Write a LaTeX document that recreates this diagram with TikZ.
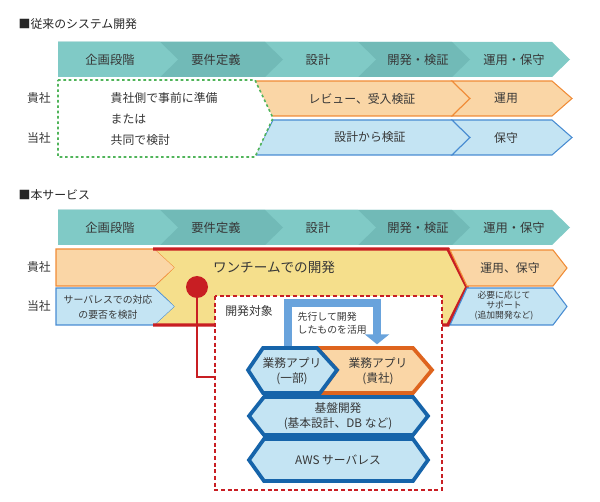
\documentclass[tikz,border=0pt]{standalone}
\usepackage{fontspec}
\setmainfont{Noto Sans CJK JP}
\usepackage{xcolor}
\usepackage{tikz}
\usetikzlibrary{arrows.meta,positioning}

\definecolor{tealA}{RGB}{128,202,198}
\definecolor{tealB}{RGB}{113,186,183}
\definecolor{orgFill}{RGB}{250,214,166}
\definecolor{orgLine}{RGB}{240,140,55}
\definecolor{bluFill}{RGB}{196,228,243}
\definecolor{bluLine}{RGB}{72,140,210}
\definecolor{grnLine}{RGB}{80,180,90}
\definecolor{yelFill}{RGB}{245,223,140}
\definecolor{redLine}{RGB}{200,30,35}
\definecolor{hexBlue}{RGB}{22,100,170}
\definecolor{hexOrg}{RGB}{222,100,30}
\definecolor{arrBlue}{RGB}{105,163,220}
\definecolor{txtGray}{RGB}{55,55,55}

\begin{document}
\begin{tikzpicture}[x=0.75pt,y=-0.75pt,
    hdtext/.style={font=\fontsize{9.2}{11}\selectfont, text=txtGray},
    rowtext/.style={font=\fontsize{8.9}{11}\selectfont, text=txtGray},
    smalltext/.style={font=\fontsize{6.6}{7.6}\selectfont, text=txtGray, align=center},
    hextext/.style={font=\fontsize{8.8}{11}\selectfont, text=txtGray, align=center},
    orgarrow/.style={fill=orgFill, draw=orgLine, line width=0.8pt},
    bluarrow/.style={fill=bluFill, draw=bluLine, line width=0.8pt},
    hexblue/.style={fill=bluFill, draw=hexBlue, line width=2.8pt},
    hexorange/.style={fill=orgFill, draw=hexOrg, line width=2.8pt}]
    \useasboundingbox (0,0) rectangle (600,502);

    % Titles
    \node[rowtext, text=black!85, anchor=west] (title1) at (14,24) {■従来のシステム開発};
    \node[rowtext, text=black!85, anchor=west] (title2) at (14,195) {■本サービス};

    % Phase bars
    \foreach \yt in {42,210} {
        \foreach \xe/\col in {552/tealA,452/tealB,358/tealA,265/tealB,160/tealA}
            \fill[\col] (58,\yt) -- (\xe,\yt) -- (\xe+18,\yt+17.5) -- (\xe,\yt+35) -- (58,\yt+35) -- cycle;
    }
    \foreach \yt/\s in {42/a,210/b} {
        \foreach \x/\t [count=\i] in {110/企画段階,216/要件定義,318/設計,418/開発・検証,514/運用・保守}
            \node[hdtext] (hd\s\i) at (\x,\yt+17.5) {\t};
    }

    % Row labels
    \node[rowtext] (clientA) at (39,98) {貴社};
    \node[rowtext] (usA) at (39,138) {当社};
    \node[rowtext] (clientB) at (39,267) {貴社};
    \node[rowtext] (usB) at (39,306) {当社};

    % Conventional development
    \draw[orgarrow] (255,81) -- (452,81) -- (470,98.5) -- (452,116) -- (271,116) -- cycle;
    \draw[orgarrow] (452,81) -- (552,81) -- (572,98.5) -- (552,116) -- (452,116) -- (470,98.5) -- cycle;
    \draw[bluarrow] (273,120) -- (452,120) -- (470,137.5) -- (452,155) -- (255,155) -- cycle;
    \draw[bluarrow] (452,120) -- (552,120) -- (572,137.5) -- (552,155) -- (452,155) -- (470,137.5) -- cycle;
    \draw[grnLine, line width=1.2pt, dash pattern=on 2pt off 2pt, fill=white]
        (58,80) -- (255,80) -- (273,118) -- (255,157) -- (58,157) -- cycle;

    \node[rowtext, anchor=west, align=left, font=\fontsize{8.9}{15.6}\selectfont] (prep) at (106,119)
        {貴社側で事前に準備\\または\\共同で検討};
    \node[rowtext] (review) at (362,98.5) {レビュー、受入検証};
    \node[rowtext] (opA) at (506,98.5) {運用};
    \node[rowtext] (verify) at (370,137.5) {設計から検証};
    \node[rowtext] (mtA) at (506,137.5) {保守};

    % This service
    \draw[orgarrow] (56,249) -- (155,249) -- (175,267.5) -- (155,286) -- (56,286) -- cycle;
    \draw[bluarrow] (56,288) -- (155,288) -- (175,306.5) -- (155,325) -- (56,325) -- cycle;
    \fill[yelFill] (155,249) -- (448,249) -- (467,287) -- (448,325) -- (155,325)
        -- (175,306.5) -- (155,287) -- (175,267.5) -- cycle;
    \draw[redLine, line width=2.6pt] (153,249) -- (448,249) -- (467,287) -- (448,325) -- (153,325);
    \draw[orgarrow] (450,250) -- (553,250) -- (567,268) -- (553,286) -- (467,286) -- cycle;
    \draw[bluarrow] (467,288) -- (553,288) -- (567,306.5) -- (553,325) -- (450,325) -- cycle;

    \node[rowtext, font=\fontsize{10.2}{12}\selectfont] (oneteam) at (274,267) {ワンチームでの開発};
    \node[smalltext, font=\fontsize{7.4}{11.5}\selectfont] (review2) at (108,307) {サーバレスでの対応\\の要否を検討};
    \node[rowtext] (opB) at (510,268) {運用、保守};
    \node[smalltext] (support) at (504,306) {必要に応じて\\サポート\\(追加開発など)};

    % Scope box
    \node[circle, fill=redLine, inner sep=0pt, minimum size=16.5pt] (dot) at (197,287) {};
    \coordinate (scopeW) at (215,377);
    \draw[redLine, line width=1.4pt] (dot.center) |- (scopeW);
    \draw[redLine, line width=1.6pt, dash pattern=on 3pt off 2pt, fill=white] (215,296) rectangle (442,490);
    \node[rowtext] (scope) at (249,311) {開発対象};

    % Reuse arrow
    \coordinate (appTop) at (288,347);
    \coordinate (cliTop) at (377,347);
    \draw[arrBlue, line width=5.3pt, -{Triangle[width=18pt,length=7.5pt]}, shorten >=2pt]
        (appTop) -- ++(0,-44) -| (cliTop);
    \node[smalltext, align=left, anchor=west, font=\fontsize{7.4}{9.5}\selectfont] (reuse) at (293,323)
        {先行して開発\\したものを活用};

    % Layers
    \draw[hexorange] (317,348) -- (413,348) -- (432,370) -- (413,393) -- (320,393) -- (337,370) -- cycle;
    \draw[hexblue] (248,370) -- (263,348) -- (317,348) -- (337,370) -- (320,393) -- (263,393) -- cycle;
    \draw[hexblue] (249,416) -- (264,397) -- (413,397) -- (428,416) -- (413,435) -- (264,435) -- cycle;
    \draw[hexblue] (249,460) -- (264,439) -- (413,439) -- (428,460) -- (413,481) -- (264,481) -- cycle;

    \node[hextext] (app) at (292,371) {業務アプリ\\(一部)};
    \node[hextext] (cli) at (378,371) {業務アプリ\\(貴社)};
    \node[hextext] (base) at (338,416) {基盤開発\\(基本設計、DB など)};
    \node[hextext] (aws) at (338,460) {AWS サーバレス};
\end{tikzpicture}
\end{document}
